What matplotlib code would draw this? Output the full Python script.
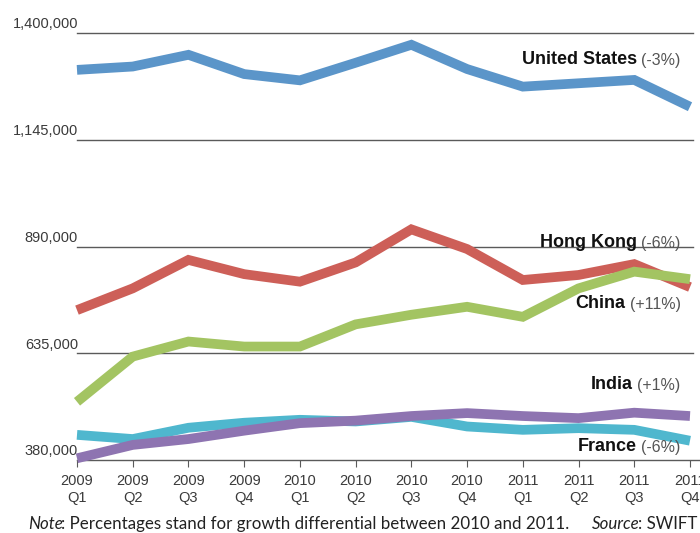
import matplotlib
matplotlib.use("Agg")
import matplotlib.pyplot as plt

## Data
quarters = ["2009\nQ1", "2009\nQ2", "2009\nQ3", "2009\nQ4",
            "2010\nQ1", "2010\nQ2", "2010\nQ3", "2010\nQ4",
            "2011\nQ1", "2011\nQ2", "2011\nQ3", "2011\nQ4"]

united_states = [1312000, 1320000, 1348000, 1302000, 1287000, 1329000,
                 1372000, 1314000, 1272000, 1280000, 1288000, 1224000]
hong_kong = [738000, 790000, 858000, 824000, 806000, 852000,
             931000, 884000, 810000, 822000, 848000, 793000]
china = [519000, 627000, 663000, 651000, 651000, 704000,
         727000, 746000, 722000, 790000, 830000, 812000]
france = [440000, 430000, 457000, 469000, 476000, 472000,
          483000, 460000, 452000, 456000, 452000, 426000]
india = [384000, 416000, 430000, 450000, 468000, 474000,
         485000, 492000, 485000, 480000, 493000, 485000]

grid_values = [380000, 635000, 890000, 1145000, 1400000]
grid_labels = ["380,000", "635,000", "890,000", "1,145,000", "1,400,000"]

series_names = ["United States", "Hong Kong", "China", "India", "France"]
series_growth = ["(-3%)", "(-6%)", "(+11%)", "(+1%)", "(-6%)"]
label_y = [1335000, 898000, 752000, 558000, 410000]

COLORS = {
    "United States": "#5B95C9",
    "Hong Kong": "#CD5F58",
    "China": "#A3C462",
    "France": "#4FB7CE",
    "India": "#8E74B1",
}

plt.rcParams["font.family"] = ["Liberation Sans", "DejaVu Sans"]

fig = plt.figure(figsize=(7, 5.33), dpi=100)
ax = fig.add_axes([0.11, 0.137, 0.8757, 0.801])

x = list(range(len(quarters)))

# gridlines + axis line
for v in grid_values:
    ax.plot([0, 11.3 if v == 380000 else 11.05], [v, v], color="#5a5a5a",
            lw=1.0, clip_on=False, zorder=1)
for v, lab in zip(grid_values, grid_labels):
    ax.text(0.02, v + 4000, lab, ha="right", va="bottom", fontsize=10.5,
            color="#3a3a3a")

# lines
for name, vals in [("United States", united_states), ("Hong Kong", hong_kong),
                   ("China", china), ("France", france), ("India", india)]:
    ax.plot(x, vals, color=COLORS[name], lw=7, solid_capstyle="butt",
            solid_joinstyle="miter", clip_on=False, zorder=3)

# series labels: regular percentage, bold name to its left
for name, pct, yv in zip(series_names, series_growth, label_y):
    t = ax.text(10.83, yv, pct, ha="right", va="center", fontsize=11.5,
                color="#555555", zorder=5)
    ax.annotate(name, xy=(0, 0), xycoords=t, xytext=(-3, 0),
                textcoords="offset points", ha="right", va="bottom",
                fontsize=13, fontweight="bold", color="#111111", zorder=5)

ax.set_xlim(0, 11)
ax.set_ylim(380000, 1400000)
ax.set_xticks(x)
ax.set_xticklabels(quarters, fontsize=10.5, color="#3a3a3a", linespacing=1.25)
ax.tick_params(axis="x", length=5, color="#5a5a5a", pad=5)
ax.set_yticks([])
for s in ax.spines.values():
    s.set_visible(False)

## footnote, mixed italic / regular, laid out piece by piece
foot_font = ["Lato", "DejaVu Sans"]
parts = [("Note", "italic"),
         (": Percentages stand for growth differential between 2010 and 2011.     ", "normal"),
         ("Source", "italic"), (": SWIFT", "normal")]
foot = [fig.text(28 / 700, 4 / 533, txt, fontsize=12.15, style=st,
                 family=foot_font, color="#222222") for txt, st in parts]
fig.canvas.draw()
r = fig.canvas.get_renderer()
for i in range(1, len(foot)):
    bb = foot[i - 1].get_window_extent(r)
    shift = -1.5 if parts[i - 1][1] == "italic" else 0
    foot[i].set_position(((bb.x1 + shift) / fig.bbox.width, 4 / 533))
    fig.canvas.draw()

fig.savefig("out.png", dpi=100)
